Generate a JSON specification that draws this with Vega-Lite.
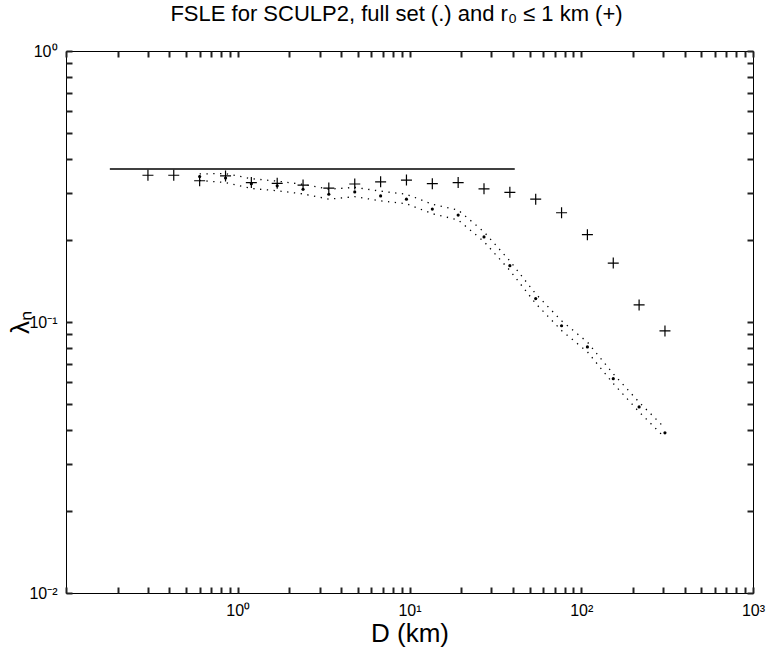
{
  "$schema": "https://vega.github.io/schema/vega-lite/v6.json",
  "width": 687,
  "height": 542,
  "autosize": "none",
  "padding": {"left": 66, "top": 51, "right": 16, "bottom": 56},
  "background": "white",
  "config": {
    "view": {"stroke": "black", "strokeWidth": 1},
    "font": "Liberation Sans"
  },
  "title": {
    "text": "FSLE for SCULP2, full set (.) and r₀ ≤ 1 km (+)",
    "font": "Liberation Sans",
    "fontSize": 22,
    "fontWeight": "normal",
    "color": "black",
    "anchor": "middle",
    "dx": -13,
    "offset": 17
  },
  "datasets": {
    "ref": [
      {"D": 0.18, "lam": 0.367},
      {"D": 41, "lam": 0.367}
    ],
    "plus": [
      {"D": 0.3, "lam": 0.348},
      {"D": 0.424, "lam": 0.348},
      {"D": 0.6, "lam": 0.332},
      {"D": 0.849, "lam": 0.346},
      {"D": 1.2, "lam": 0.327},
      {"D": 1.697, "lam": 0.325},
      {"D": 2.4, "lam": 0.320},
      {"D": 3.39, "lam": 0.312},
      {"D": 4.8, "lam": 0.323},
      {"D": 6.79, "lam": 0.329},
      {"D": 9.6, "lam": 0.334},
      {"D": 13.58, "lam": 0.324},
      {"D": 19.2, "lam": 0.327},
      {"D": 27.15, "lam": 0.310},
      {"D": 38.4, "lam": 0.301},
      {"D": 54.3, "lam": 0.284},
      {"D": 76.8, "lam": 0.253},
      {"D": 108.6, "lam": 0.210},
      {"D": 153.6, "lam": 0.165},
      {"D": 217.2, "lam": 0.1156},
      {"D": 307.2, "lam": 0.0927}
    ],
    "dots": [
      {"D": 0.6, "lam": 0.344},
      {"D": 0.849, "lam": 0.340},
      {"D": 1.2, "lam": 0.324},
      {"D": 1.697, "lam": 0.318},
      {"D": 2.4, "lam": 0.309},
      {"D": 3.39, "lam": 0.296},
      {"D": 4.8, "lam": 0.302},
      {"D": 6.79, "lam": 0.292},
      {"D": 9.6, "lam": 0.284},
      {"D": 13.58, "lam": 0.261},
      {"D": 19.2, "lam": 0.248},
      {"D": 27.15, "lam": 0.206},
      {"D": 38.4, "lam": 0.1614},
      {"D": 54.3, "lam": 0.122},
      {"D": 76.8, "lam": 0.0969},
      {"D": 108.6, "lam": 0.0809},
      {"D": 153.6, "lam": 0.0618},
      {"D": 217.2, "lam": 0.0486},
      {"D": 307.2, "lam": 0.0390}
    ],
    "env": [
      {"D": 0.6, "lam": 0.352, "b": "upper"},
      {"D": 0.849, "lam": 0.353, "b": "upper"},
      {"D": 1.2, "lam": 0.338, "b": "upper"},
      {"D": 1.697, "lam": 0.331, "b": "upper"},
      {"D": 2.4, "lam": 0.322, "b": "upper"},
      {"D": 3.39, "lam": 0.309, "b": "upper"},
      {"D": 4.8, "lam": 0.314, "b": "upper"},
      {"D": 6.79, "lam": 0.304, "b": "upper"},
      {"D": 9.6, "lam": 0.296, "b": "upper"},
      {"D": 13.58, "lam": 0.272, "b": "upper"},
      {"D": 19.2, "lam": 0.259, "b": "upper"},
      {"D": 27.15, "lam": 0.215, "b": "upper"},
      {"D": 38.4, "lam": 0.168, "b": "upper"},
      {"D": 54.3, "lam": 0.127, "b": "upper"},
      {"D": 76.8, "lam": 0.101, "b": "upper"},
      {"D": 108.6, "lam": 0.0843, "b": "upper"},
      {"D": 153.6, "lam": 0.0644, "b": "upper"},
      {"D": 217.2, "lam": 0.0506, "b": "upper"},
      {"D": 307.2, "lam": 0.0406, "b": "upper"},
      {"D": 0.6, "lam": 0.333, "b": "lower"},
      {"D": 0.849, "lam": 0.327, "b": "lower"},
      {"D": 1.2, "lam": 0.311, "b": "lower"},
      {"D": 1.697, "lam": 0.305, "b": "lower"},
      {"D": 2.4, "lam": 0.297, "b": "lower"},
      {"D": 3.39, "lam": 0.284, "b": "lower"},
      {"D": 4.8, "lam": 0.290, "b": "lower"},
      {"D": 6.79, "lam": 0.280, "b": "lower"},
      {"D": 9.6, "lam": 0.273, "b": "lower"},
      {"D": 13.58, "lam": 0.251, "b": "lower"},
      {"D": 19.2, "lam": 0.238, "b": "lower"},
      {"D": 27.15, "lam": 0.198, "b": "lower"},
      {"D": 38.4, "lam": 0.155, "b": "lower"},
      {"D": 54.3, "lam": 0.117, "b": "lower"},
      {"D": 76.8, "lam": 0.0930, "b": "lower"},
      {"D": 108.6, "lam": 0.0776, "b": "lower"},
      {"D": 153.6, "lam": 0.0593, "b": "lower"},
      {"D": 217.2, "lam": 0.0466, "b": "lower"},
      {"D": 307.2, "lam": 0.0374, "b": "lower"}
    ]
  },
  "resolve": {"axis": {"x": "independent", "y": "independent"}},
  "layer": [
    {
      "data": {"name": "ref"},
      "mark": {"type": "line", "color": "black", "strokeWidth": 1.6},
      "encoding": {
        "x": {
          "field": "D", "type": "quantitative",
          "scale": {"type": "log", "domain": [0.1, 1000], "nice": false},
          "axis": {
            "orient": "bottom",
            "values": [0.1,0.2,0.3,0.4,0.5,0.6,0.7,0.8,0.9,1,2,3,4,5,6,7,8,9,10,20,30,40,50,60,70,80,90,100,200,300,400,500,600,700,800,900,1000],
            "labelExpr": "datum.value==1?'10⁰':datum.value==10?'10¹':datum.value==100?'10²':datum.value==1000?'10³':''",
            "tickSize": -6,
            "tickColor": "#222222", "tickWidth": 2, "ticks": true,
            "domain": false, "grid": false,
            "labelFont": "Liberation Sans", "labelFontSize": 16, "labelColor": "black",
            "labelPadding": 15, "labelFlush": false, "labelOverlap": false,
            "title": "D (km)", "titleFont": "Liberation Sans", "titleFontSize": 26,
            "titleFontWeight": "normal", "titleColor": "black", "titlePadding": 2
          }
        },
        "y": {
          "field": "lam", "type": "quantitative",
          "scale": {"type": "log", "domain": [0.01, 1], "nice": false},
          "axis": {
            "orient": "left",
            "values": [0.01,0.02,0.03,0.04,0.05,0.06,0.07,0.08,0.09,0.1,0.2,0.3,0.4,0.5,0.6,0.7,0.8,0.9,1],
            "labelExpr": "datum.value==0.01?'10⁻²':datum.value==0.1?'10⁻¹':datum.value==1?'10⁰':''",
            "tickSize": -6,
            "tickColor": "#222222", "tickWidth": 2, "ticks": true,
            "domain": false, "grid": false,
            "labelFont": "Liberation Sans", "labelFontSize": 16, "labelColor": "black",
            "labelPadding": 15, "labelFlush": false, "labelOverlap": false,
            "title": "λₙ", "titleFont": "Liberation Sans", "titleFontSize": 26,
            "titleFontWeight": "normal", "titleColor": "black",
            "titleAngle": -90, "titleX": -38, "titleY": 271, "titleAlign": "center", "titleBaseline": "alphabetic"
          }
        }
      }
    },
    {
      "data": {"name": "env"},
      "mark": {"type": "line", "color": "black", "strokeWidth": 1.3, "strokeDash": [1.3, 5.5]},
      "encoding": {
        "x": {
          "field": "D", "type": "quantitative",
          "scale": {"type": "log", "domain": [0.1, 1000], "nice": false},
          "axis": {
            "orient": "top",
            "values": [0.1,0.2,0.3,0.4,0.5,0.6,0.7,0.8,0.9,1,2,3,4,5,6,7,8,9,10,20,30,40,50,60,70,80,90,100,200,300,400,500,600,700,800,900,1000],
            "labels": false,
            "tickSize": -6,
            "tickColor": "#222222", "tickWidth": 2, "ticks": true,
            "domain": false, "grid": false, "title": null
          }
        },
        "y": {
          "field": "lam", "type": "quantitative",
          "scale": {"type": "log", "domain": [0.01, 1], "nice": false},
          "axis": {
            "orient": "right",
            "values": [0.01,0.02,0.03,0.04,0.05,0.06,0.07,0.08,0.09,0.1,0.2,0.3,0.4,0.5,0.6,0.7,0.8,0.9,1],
            "labels": false,
            "tickSize": -6,
            "tickColor": "#222222", "tickWidth": 2, "ticks": true,
            "domain": false, "grid": false, "title": null
          }
        },
        "detail": {"field": "b", "type": "nominal"}
      }
    },
    {
      "data": {"name": "dots"},
      "mark": {"type": "point", "shape": "circle", "filled": true, "color": "black", "size": 10, "opacity": 1},
      "encoding": {
        "x": {"field": "D", "type": "quantitative", "scale": {"type": "log", "domain": [0.1, 1000], "nice": false}, "axis": null},
        "y": {"field": "lam", "type": "quantitative", "scale": {"type": "log", "domain": [0.01, 1], "nice": false}, "axis": null}
      }
    },
    {
      "data": {"name": "plus"},
      "mark": {"type": "point", "shape": "M-1,0L1,0M0,-1L0,1", "filled": false, "color": "black", "strokeWidth": 1.2, "size": 121, "opacity": 1},
      "encoding": {
        "x": {"field": "D", "type": "quantitative", "scale": {"type": "log", "domain": [0.1, 1000], "nice": false}, "axis": null},
        "y": {"field": "lam", "type": "quantitative", "scale": {"type": "log", "domain": [0.01, 1], "nice": false}, "axis": null}
      }
    }
  ]
}
